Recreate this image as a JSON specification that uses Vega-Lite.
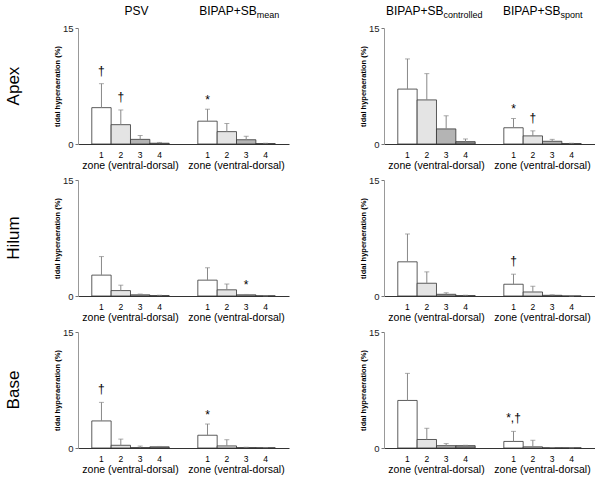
{
  "$schema": "https://vega.github.io/schema/vega-lite/v6.json",
  "padding": {"left": 5, "top": 5, "right": 0, "bottom": 0},
  "config": {"font": "Liberation Sans", "view": {"stroke": null}},
  "data": {"values": [
    {"region": "Apex", "panel": "L", "cond": "PSV", "zone": "1", "mean": 4.7, "sd": 3.1, "sig": "†"},
    {"region": "Apex", "panel": "L", "cond": "PSV", "zone": "2", "mean": 2.5, "sd": 1.9, "sig": "†"},
    {"region": "Apex", "panel": "L", "cond": "PSV", "zone": "3", "mean": 0.6, "sd": 0.5, "sig": ""},
    {"region": "Apex", "panel": "L", "cond": "PSV", "zone": "4", "mean": 0.1, "sd": 0.1, "sig": ""},
    {"region": "Apex", "panel": "L", "cond": "BIPAP+SB_mean", "zone": "1", "mean": 2.95, "sd": 1.55, "sig": "*"},
    {"region": "Apex", "panel": "L", "cond": "BIPAP+SB_mean", "zone": "2", "mean": 1.6, "sd": 1.05, "sig": ""},
    {"region": "Apex", "panel": "L", "cond": "BIPAP+SB_mean", "zone": "3", "mean": 0.55, "sd": 0.45, "sig": ""},
    {"region": "Apex", "panel": "L", "cond": "BIPAP+SB_mean", "zone": "4", "mean": 0.05, "sd": 0.05, "sig": ""},
    {"region": "Apex", "panel": "R", "cond": "BIPAP+SB_controlled", "zone": "1", "mean": 7.1, "sd": 3.9, "sig": ""},
    {"region": "Apex", "panel": "R", "cond": "BIPAP+SB_controlled", "zone": "2", "mean": 5.7, "sd": 3.4, "sig": ""},
    {"region": "Apex", "panel": "R", "cond": "BIPAP+SB_controlled", "zone": "3", "mean": 1.95, "sd": 1.7, "sig": ""},
    {"region": "Apex", "panel": "R", "cond": "BIPAP+SB_controlled", "zone": "4", "mean": 0.3, "sd": 0.35, "sig": ""},
    {"region": "Apex", "panel": "R", "cond": "BIPAP+SB_spont", "zone": "1", "mean": 2.1, "sd": 1.2, "sig": "*"},
    {"region": "Apex", "panel": "R", "cond": "BIPAP+SB_spont", "zone": "2", "mean": 1.05, "sd": 0.65, "sig": "†"},
    {"region": "Apex", "panel": "R", "cond": "BIPAP+SB_spont", "zone": "3", "mean": 0.35, "sd": 0.25, "sig": ""},
    {"region": "Apex", "panel": "R", "cond": "BIPAP+SB_spont", "zone": "4", "mean": 0.05, "sd": 0.05, "sig": ""},
    {"region": "Hilum", "panel": "L", "cond": "PSV", "zone": "1", "mean": 2.7, "sd": 2.4, "sig": ""},
    {"region": "Hilum", "panel": "L", "cond": "PSV", "zone": "2", "mean": 0.7, "sd": 0.7, "sig": ""},
    {"region": "Hilum", "panel": "L", "cond": "PSV", "zone": "3", "mean": 0.15, "sd": 0.1, "sig": ""},
    {"region": "Hilum", "panel": "L", "cond": "PSV", "zone": "4", "mean": 0.05, "sd": 0.05, "sig": ""},
    {"region": "Hilum", "panel": "L", "cond": "BIPAP+SB_mean", "zone": "1", "mean": 2.05, "sd": 1.6, "sig": ""},
    {"region": "Hilum", "panel": "L", "cond": "BIPAP+SB_mean", "zone": "2", "mean": 0.8, "sd": 0.75, "sig": ""},
    {"region": "Hilum", "panel": "L", "cond": "BIPAP+SB_mean", "zone": "3", "mean": 0.15, "sd": 0.05, "sig": "*"},
    {"region": "Hilum", "panel": "L", "cond": "BIPAP+SB_mean", "zone": "4", "mean": 0.02, "sd": 0.0, "sig": ""},
    {"region": "Hilum", "panel": "R", "cond": "BIPAP+SB_controlled", "zone": "1", "mean": 4.42, "sd": 3.6, "sig": ""},
    {"region": "Hilum", "panel": "R", "cond": "BIPAP+SB_controlled", "zone": "2", "mean": 1.65, "sd": 1.47, "sig": ""},
    {"region": "Hilum", "panel": "R", "cond": "BIPAP+SB_controlled", "zone": "3", "mean": 0.22, "sd": 0.2, "sig": ""},
    {"region": "Hilum", "panel": "R", "cond": "BIPAP+SB_controlled", "zone": "4", "mean": 0.05, "sd": 0.05, "sig": ""},
    {"region": "Hilum", "panel": "R", "cond": "BIPAP+SB_spont", "zone": "1", "mean": 1.52, "sd": 1.3, "sig": "†"},
    {"region": "Hilum", "panel": "R", "cond": "BIPAP+SB_spont", "zone": "2", "mean": 0.52, "sd": 0.74, "sig": ""},
    {"region": "Hilum", "panel": "R", "cond": "BIPAP+SB_spont", "zone": "3", "mean": 0.09, "sd": 0.06, "sig": ""},
    {"region": "Hilum", "panel": "R", "cond": "BIPAP+SB_spont", "zone": "4", "mean": 0.0, "sd": 0.0, "sig": ""},
    {"region": "Base", "panel": "L", "cond": "PSV", "zone": "1", "mean": 3.5, "sd": 2.4, "sig": "†"},
    {"region": "Base", "panel": "L", "cond": "PSV", "zone": "2", "mean": 0.35, "sd": 0.8, "sig": ""},
    {"region": "Base", "panel": "L", "cond": "PSV", "zone": "3", "mean": 0.05, "sd": 0.2, "sig": ""},
    {"region": "Base", "panel": "L", "cond": "PSV", "zone": "4", "mean": 0.15, "sd": 0.05, "sig": ""},
    {"region": "Base", "panel": "L", "cond": "BIPAP+SB_mean", "zone": "1", "mean": 1.65, "sd": 1.45, "sig": "*"},
    {"region": "Base", "panel": "L", "cond": "BIPAP+SB_mean", "zone": "2", "mean": 0.27, "sd": 0.8, "sig": ""},
    {"region": "Base", "panel": "L", "cond": "BIPAP+SB_mean", "zone": "3", "mean": 0.05, "sd": 0.05, "sig": ""},
    {"region": "Base", "panel": "L", "cond": "BIPAP+SB_mean", "zone": "4", "mean": 0.03, "sd": 0.02, "sig": ""},
    {"region": "Base", "panel": "R", "cond": "BIPAP+SB_controlled", "zone": "1", "mean": 6.15, "sd": 3.5, "sig": ""},
    {"region": "Base", "panel": "R", "cond": "BIPAP+SB_controlled", "zone": "2", "mean": 1.1, "sd": 1.45, "sig": ""},
    {"region": "Base", "panel": "R", "cond": "BIPAP+SB_controlled", "zone": "3", "mean": 0.3, "sd": 0.27, "sig": ""},
    {"region": "Base", "panel": "R", "cond": "BIPAP+SB_controlled", "zone": "4", "mean": 0.3, "sd": 0.05, "sig": ""},
    {"region": "Base", "panel": "R", "cond": "BIPAP+SB_spont", "zone": "1", "mean": 0.85, "sd": 1.3, "sig": "*,†"},
    {"region": "Base", "panel": "R", "cond": "BIPAP+SB_spont", "zone": "2", "mean": 0.15, "sd": 0.85, "sig": ""},
    {"region": "Base", "panel": "R", "cond": "BIPAP+SB_spont", "zone": "3", "mean": 0.03, "sd": 0.03, "sig": ""},
    {"region": "Base", "panel": "R", "cond": "BIPAP+SB_spont", "zone": "4", "mean": 0.02, "sd": 0.0, "sig": ""}
  ]},
  "transform": [
    {"calculate": "split(datum.cond, '_')[0]", "as": "main"},
    {"calculate": "split(datum.cond, '_')[1] || ''", "as": "sub"},
    {"calculate": "datum.mean + datum.sd", "as": "upper"}
  ],
  "facet": {
    "row": {"field": "region", "type": "nominal", "sort": ["Apex", "Hilum", "Base"],
      "header": {"title": null, "labelAngle": -90, "labelFontSize": 17, "labelFont": "Liberation Sans", "labelOrient": "left", "labelPadding": 47, "labelColor": "#000"}},
    "column": {"field": "panel", "type": "nominal", "header": {"title": null, "labels": false}}
  },
  "spacing": {"row": 36, "column": 95},
  "bounds": "flush",
  "resolve": {"scale": {"x": "independent", "xOffset": "independent"}, "axis": {"x": "independent", "y": "independent"}},
  "spec": {
    "width": 211,
    "height": 116,
    "encoding": {
      "x": {"field": "cond", "type": "nominal", "sort": ["PSV", "BIPAP+SB_mean", "BIPAP+SB_controlled", "BIPAP+SB_spont"],
        "scale": {"paddingInner": 0.27, "paddingOuter": 0.13},
        "axis": {"labels": false, "ticks": false, "title": null, "domainColor": "#333", "domainWidth": 1}}
    },
    "layer": [
      {
        "mark": {"type": "bar", "stroke": "#333", "strokeWidth": 0.8},
        "encoding": {
          "xOffset": {"field": "zone", "type": "nominal", "scale": {"paddingInner": 0, "paddingOuter": 0}},
          "y": {"field": "mean", "type": "quantitative", "scale": {"domain": [0, 15], "nice": false},
            "axis": {"values": [0, 5, 10, 15], "title": "tidal hyperaeration (%)", "titleFontSize": 7.5, "titleFontWeight": "bold", "titlePadding": 1, "labelFontSize": 9.5, "labelColor": "#222", "labelPadding": 2, "tickSize": 3, "tickColor": "#777", "domainColor": "#999", "grid": false}},
          "fill": {"field": "zone", "type": "nominal", "scale": {"domain": ["1", "2", "3", "4"], "range": ["#ffffff", "#e4e4e4", "#b4b4b4", "#8c8c8c"]}, "legend": null}
        }
      },
      {
        "mark": {"type": "rule", "color": "#888", "strokeWidth": 1},
        "encoding": {
          "xOffset": {"field": "zone", "type": "nominal", "scale": {"paddingInner": 0, "paddingOuter": 0}},
          "y": {"field": "mean", "type": "quantitative"},
          "y2": {"field": "upper"}
        }
      },
      {
        "mark": {"type": "tick", "color": "#888", "thickness": 1, "size": 5},
        "encoding": {
          "xOffset": {"field": "zone", "type": "nominal", "scale": {"paddingInner": 0, "paddingOuter": 0}},
          "y": {"field": "upper", "type": "quantitative"}
        }
      },
      {
        "transform": [{"filter": "datum.sig == '*'"}],
        "mark": {"type": "text", "fontSize": 12, "baseline": "alphabetic", "dy": -5, "color": "#000"},
        "encoding": {
          "xOffset": {"field": "zone", "type": "nominal", "scale": {"paddingInner": 0, "paddingOuter": 0}},
          "y": {"field": "upper", "type": "quantitative"},
          "text": {"field": "sig"}
        }
      },
      {
        "transform": [{"filter": "datum.sig != '' && datum.sig != '*'"}],
        "mark": {"type": "text", "fontSize": 12, "baseline": "alphabetic", "dy": -9, "color": "#000"},
        "encoding": {
          "xOffset": {"field": "zone", "type": "nominal", "scale": {"paddingInner": 0, "paddingOuter": 0}},
          "y": {"field": "upper", "type": "quantitative"},
          "text": {"field": "sig"}
        }
      },
      {
        "mark": {"type": "text", "fontSize": 8.5, "baseline": "middle", "dy": 10.5, "color": "#000"},
        "encoding": {
          "xOffset": {"field": "zone", "type": "nominal", "scale": {"paddingInner": 0, "paddingOuter": 0}},
          "y": {"datum": 0, "type": "quantitative"},
          "text": {"field": "zone"}
        }
      },
      {
        "transform": [{"filter": "datum.zone == '1'"}],
        "mark": {"type": "text", "fontSize": 10.5, "baseline": "middle", "dy": 22, "text": "zone (ventral-dorsal)", "color": "#000"},
        "encoding": {
          "y": {"datum": 0, "type": "quantitative"}
        }
      },
      {
        "transform": [{"filter": "datum.zone == '1' && datum.region == 'Apex' && datum.sub == ''"}],
        "mark": {"type": "text", "fontSize": 12, "baseline": "alphabetic", "align": "center", "dy": -13, "dx": 6, "color": "#000"},
        "encoding": {
          "y": {"datum": 15, "type": "quantitative"},
          "text": {"field": "main"}
        }
      },
      {
        "transform": [{"filter": "datum.zone == '1' && datum.region == 'Apex' && datum.sub != ''"}],
        "mark": {"type": "text", "fontSize": 12, "baseline": "alphabetic", "align": "right", "dy": -13, "dx": {"expr": "29 - 2.2 * length(datum.sub)"}, "color": "#000"},
        "encoding": {
          "y": {"datum": 15, "type": "quantitative"},
          "text": {"field": "main"}
        }
      },
      {
        "transform": [{"filter": "datum.zone == '1' && datum.region == 'Apex' && datum.sub != ''"}],
        "mark": {"type": "text", "fontSize": 9, "baseline": "alphabetic", "align": "left", "dy": -10, "dx": {"expr": "29 - 2.2 * length(datum.sub)"}, "color": "#000"},
        "encoding": {
          "y": {"datum": 15, "type": "quantitative"},
          "text": {"field": "sub"}
        }
      }
    ]
  }
}
